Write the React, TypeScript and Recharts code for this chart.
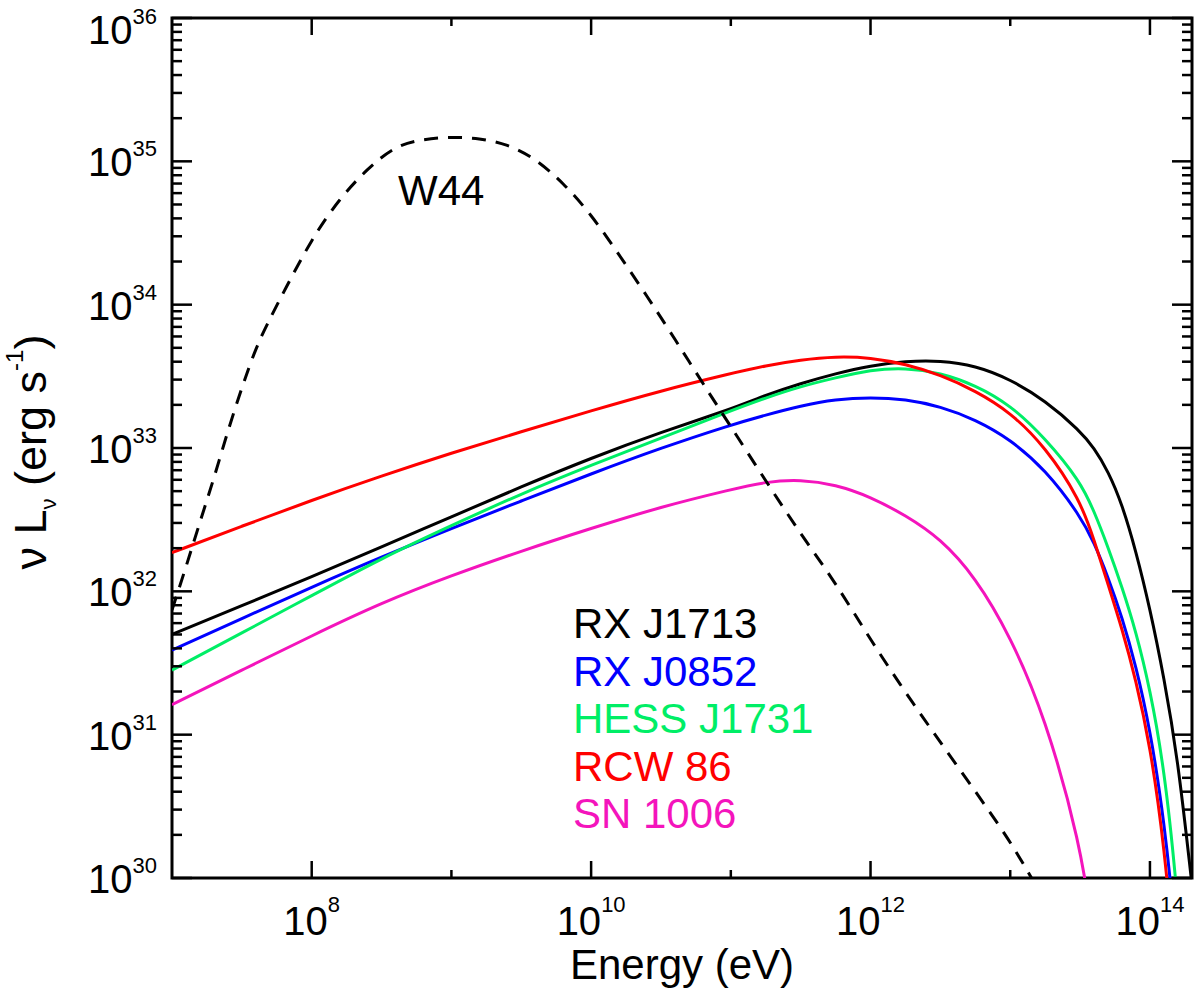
import { LineChart, Line, XAxis, YAxis, ReferenceArea } from "recharts"

// shared energy grid (eV) for the five SNR curves
const energies = [
  1e7, 3.16e7, 1e8, 3.16e8, 1e9, 3.16e9, 1e10, 3.16e10, 1e11, 1.78e11, 3.16e11, 5.62e11, 1e12, 1.78e12, 3.16e12,
  5.62e12, 1e13, 1.78e13, 3.16e13, 3.98e13, 5.01e13, 6.31e13, 7.94e13, 1e14, 1.26e14, 1.58e14, 2e14,
]

// nu L_nu (erg/s)
const rxJ1713 = [
  5.01e31, 7.94e31, 1.26e32, 2.04e32, 3.31e32, 5.37e32, 8.51e32, 1.29e33, 1.86e33, 2.34e33, 2.82e33, 3.31e33,
  3.76e33, 4.03e33, 4.07e33, 3.76e33, 3.02e33, 2.14e33, 1.32e33, 1.0e33, 6.92e32, 4.07e32, 1.91e32, 7.59e31,
  2.51e31, 6.92e30, 8.91e29,
]
const rxJ0852 = [
  3.89e31, 6.46e31, 1.07e32, 1.74e32, 2.75e32, 4.27e32, 6.61e32, 1.0e33, 1.45e33, 1.7e33, 1.97e33, 2.19e33,
  2.26e33, 2.19e33, 1.95e33, 1.58e33, 1.15e33, 7.08e32, 3.39e32, 2.19e32, 1.26e32, 6.61e31, 3.02e31, 1.1e31,
  2.63e30, 3.16e29, 1.0e28,
]
const hessJ1731 = [
  2.82e31, 5.13e31, 9.33e31, 1.7e32, 2.88e32, 4.79e32, 7.59e32, 1.17e33, 1.82e33, 2.24e33, 2.69e33, 3.09e33,
  3.51e33, 3.63e33, 3.35e33, 2.75e33, 2.0e33, 1.17e33, 5.89e32, 3.63e32, 2.04e32, 1.07e32, 5.25e31, 2.09e31,
  6.03e30, 7.94e29, 3.0e28,
]
const rcw86 = [
  1.86e32, 2.85e32, 4.32e32, 6.38e32, 9.23e32, 1.3e33, 1.82e33, 2.51e33, 3.31e33, 3.76e33, 4.12e33, 4.35e33,
  4.27e33, 3.85e33, 3.24e33, 2.51e33, 1.78e33, 1.02e33, 4.37e32, 2.29e32, 1.12e32, 5.5e31, 2.4e31, 8.51e30,
  1.78e30, 1.58e29, 5.0e27,
]
const sn1006 = [
  1.62e31, 2.82e31, 4.9e31, 8.32e31, 1.29e32, 1.91e32, 2.75e32, 3.89e32, 5.13e32, 5.82e32, 6.03e32, 5.56e32,
  4.57e32, 3.39e32, 2.34e32, 1.26e32, 4.9e31, 1.32e31, 1.78e30, 3.98e29, 5.0e28, null, null, null, null, null, null,
]

// W44 (dashed), own sampling
const w44Energies = [
  1e7, 1.26e7, 1.58e7, 2.0e7, 2.51e7, 3.16e7, 3.98e7, 5.01e7, 6.31e7, 1e8, 1.58e8, 2.51e8, 3.98e8, 6.31e8, 1e9,
  1.58e9, 2.51e9, 3.98e9, 6.31e9, 1e10, 1.58e10, 2.51e10, 3.98e10, 6.31e10, 1e11, 1.78e11, 3.16e11, 5.62e11,
  1e12, 2.0e12, 3.98e12, 8.91e12, 1.26e13, 2.0e13,
]
const w44 = [
  7.41e31, 1.48e32, 3.02e32, 6.17e32, 1.32e33, 2.63e33, 5.01e33, 7.94e33, 1.23e34, 2.88e34, 5.5e34, 8.91e34,
  1.29e35, 1.43e35, 1.48e35, 1.45e35, 1.32e35, 1.05e35, 7.08e34, 4.27e34, 2.24e34, 1.15e34, 5.75e33, 2.82e33,
  1.41e33, 5.89e32, 2.51e32, 1.15e32, 4.57e31, 1.66e31, 6.46e30, 2.14e30, 1.23e30, 5.62e29,
]

const series = [
  { key: "rxJ1713", name: "RX J1713", color: "#000000", values: rxJ1713 },
  { key: "rxJ0852", name: "RX J0852", color: "#0000ff", values: rxJ0852 },
  { key: "hessJ1731", name: "HESS J1731", color: "#00ee66", values: hessJ1731 },
  { key: "rcw86", name: "RCW 86", color: "#ff0000", values: rcw86 },
  { key: "sn1006", name: "SN 1006", color: "#f414bc", values: sn1006 },
]

const xDecades = [8, 9, 10, 11, 12, 13, 14]
const xLabelled = [8, 10, 12, 14]
const yDecades = [30, 31, 32, 33, 34, 35, 36]
const yMinorSteps = [2, 3, 4, 5, 6, 7, 8, 9]

const rows = energies.map((energy, i) => {
  const row: any = { energy }
  series.forEach((s) => (row[s.key] = s.values[i]))
  return row
})
const w44Rows = w44Energies.map((energy, i) => ({ energy, lum: w44[i] }))

const xTicks = xDecades.map((n) => Number(`1e${n}`))
const yTicks = yDecades.flatMap((n) =>
  n < 36 ? [Number(`1e${n}`), ...yMinorSteps.map((m) => Number(`${m}e${n}`))] : [Number(`1e${n}`)]
)

const W = 1200
const H = 993
const PLOT = { left: 172, right: 1192, top: 18, bottom: 878 }
const FONT = "'Liberation Sans', Arial, Helvetica, sans-serif"

const YTick = ({ y, payload }: any) => {
  const v = payload.value
  const [mant, expStr] = v.toExponential().split("e")
  const exp = Number(expStr)
  const major = mant === "1"
  const len = major ? 20 : 10
  return (
    <g>
      <line x1={PLOT.left} x2={PLOT.left + len} y1={y} y2={y} stroke="#000" strokeWidth={2.5} />
      <line x1={PLOT.right} x2={PLOT.right - len} y1={y} y2={y} stroke="#000" strokeWidth={2.5} />
      {major && (
        <text x={157} y={y + (exp === 36 ? 26 : 15)} textAnchor="end" fontSize={40} fontFamily={FONT} fill="#000">
          10
          <tspan dy={-20} fontSize={22}>
            {exp}
          </tspan>
        </text>
      )}
    </g>
  )
}

const XTick = ({ x, payload }: any) => {
  const exp = Number(payload.value.toExponential().split("e")[1])
  const major = xLabelled.includes(exp)
  const len = major ? 17 : 8
  return (
    <g>
      <line x1={x} x2={x} y1={PLOT.bottom} y2={PLOT.bottom - len} stroke="#000" strokeWidth={2.5} />
      <line x1={x} x2={x} y1={PLOT.top} y2={PLOT.top + len} stroke="#000" strokeWidth={2.5} />
      {major && (
        <text x={x} y={PLOT.bottom + 57} textAnchor="middle" fontSize={40} fontFamily={FONT} fill="#000">
          10
          <tspan dy={-23} fontSize={22}>
            {exp}
          </tspan>
        </text>
      )}
    </g>
  )
}

export default function App() {
  return (
    <div style={{ position: "absolute", left: 0, top: 0, width: W, height: H, background: "#fff" }}>
      <LineChart
        width={W}
        height={H}
        data={rows}
        margin={{ top: PLOT.top, left: PLOT.left - 1, right: W - PLOT.right, bottom: H - PLOT.bottom - 1 }}
      >
        <XAxis
          dataKey="energy"
          type="number"
          scale="log"
          domain={[1e7, 2e14]}
          allowDataOverflow
          ticks={xTicks}
          interval={0}
          height={1}
          axisLine={false}
          tickLine={false}
          tick={(p: any) => <XTick {...p} />}
        />
        <YAxis
          type="number"
          scale="log"
          domain={[1e30, 1e36]}
          allowDataOverflow
          ticks={yTicks}
          interval={0}
          width={1}
          axisLine={false}
          tickLine={false}
          tick={(p: any) => <YTick {...p} />}
        />
        {series.map((s) => (
          <Line
            key={s.key}
            dataKey={s.key}
            type="basis"
            stroke={s.color}
            strokeWidth={3}
            dot={false}
            activeDot={false}
            isAnimationActive={false}
          />
        ))}
        <Line
          data={w44Rows}
          dataKey="lum"
          type="basis"
          stroke="#000"
          strokeWidth={3}
          strokeDasharray="14 10"
          dot={false}
          activeDot={false}
          isAnimationActive={false}
        />
        <ReferenceArea x1={1e7} x2={2e14} y1={1e30} y2={1e36} fill="none" fillOpacity={0} stroke="#000" strokeWidth={3} />
      </LineChart>
      <svg
        width={W}
        height={H}
        style={{ position: "absolute", left: 0, top: 0, pointerEvents: "none" }}
        fontFamily={FONT}
      >
        <text x={398} y={205} fontSize={42} fill="#000">
          W44
        </text>
        {series.map((s, i) => (
          <text key={s.key} x={573} y={638 + i * 47.5} fontSize={42} fill={s.color}>
            {s.name}
          </text>
        ))}
        <text x={(PLOT.left + PLOT.right) / 2} y={979} textAnchor="middle" fontSize={42} fill="#000">
          Energy (eV)
        </text>
        <text transform="translate(46,452) rotate(-90)" textAnchor="middle" fontSize={45} fill="#000">
          ν L
          <tspan dy={10} fontSize={22}>
            ν
          </tspan>
          <tspan dy={-10}> (erg s</tspan>
          <tspan dy={-23} fontSize={24}>
            -1
          </tspan>
          <tspan dy={23}>)</tspan>
        </text>
      </svg>
    </div>
  )
}
